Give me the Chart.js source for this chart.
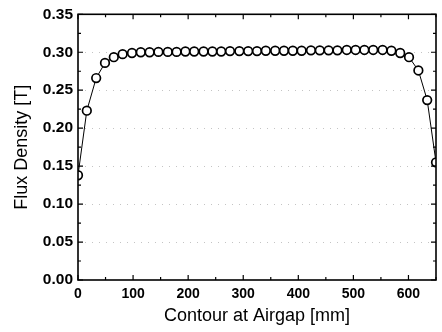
<!DOCTYPE html>
<html>
<head>
<meta charset="utf-8">
<script src="https://cdn.jsdelivr.net/npm/chart.js@4.4.1/dist/chart.umd.min.js"></script>
<style>
  html, body { margin: 0; padding: 0; background: #fff; }
  #wrap { width: 442px; height: 332px; position: relative; }
</style>
</head>
<body>
<div id="wrap"><canvas id="fluxChart"></canvas></div>
<script>
(function () {

    // ─────────────────────────────────────────────
    // DATA
    // ─────────────────────────────────────────────
    var contourMm = [0, 16, 33, 49, 65, 81, 98, 114, 130, 146, 163, 179, 195, 211,
        228, 244, 260, 276, 293, 309, 325, 341, 358, 374, 390, 406, 423, 439,
        455, 471, 488, 504, 520, 536, 553, 569, 585, 601, 618, 634, 650];

    var fluxDensity = [0.138, 0.223, 0.266, 0.286, 0.2935, 0.2975, 0.299, 0.300,
        0.300, 0.3005, 0.3005, 0.3005, 0.301, 0.301, 0.301, 0.301, 0.301,
        0.3015, 0.3015, 0.3015, 0.3015, 0.302, 0.302, 0.302, 0.302, 0.302,
        0.3025, 0.3025, 0.3025, 0.3025, 0.303, 0.303, 0.303, 0.303, 0.303,
        0.302, 0.299, 0.2935, 0.276, 0.237, 0.155];

    var xTicks = [0, 100, 200, 300, 400, 500, 600];
    var yTicks = [0.00, 0.05, 0.10, 0.15, 0.20, 0.25, 0.30, 0.35];
    var xMinorTicks = [50, 150, 250, 350, 450, 550, 650];
    var yMinorTicks = [0.025, 0.075, 0.125, 0.175, 0.225, 0.275, 0.325];

    var points = contourMm.map(function (x, i) { return { x: x, y: fluxDensity[i] }; });

    // ─────────────────────────────────────────────
    // FRAME + INWARD TICKS
    // ─────────────────────────────────────────────
    var framePlugin = {
        id: 'frame',
        afterDraw: function (chart) {
            var ctx = chart.ctx, a = chart.chartArea;
            var xs = chart.scales.x, ys = chart.scales.y;
            ctx.save();
            ctx.strokeStyle = '#000';
            ctx.lineWidth = 1.6;
            ctx.strokeRect(a.left, a.top, a.right - a.left, a.bottom - a.top);

            ctx.lineWidth = 1.2;
            ctx.beginPath();
            function xt(v, len) {
                var p = xs.getPixelForValue(v);
                ctx.moveTo(p, a.bottom); ctx.lineTo(p, a.bottom - len);
                ctx.moveTo(p, a.top); ctx.lineTo(p, a.top + len);
            }
            function yt(v, len) {
                var p = ys.getPixelForValue(v);
                ctx.moveTo(a.left, p); ctx.lineTo(a.left + len, p);
                ctx.moveTo(a.right, p); ctx.lineTo(a.right - len, p);
            }
            xTicks.forEach(function (v) { xt(v, 5); });
            xMinorTicks.forEach(function (v) { xt(v, 3); });
            yTicks.forEach(function (v) { yt(v, 5); });
            yMinorTicks.forEach(function (v) { yt(v, 3); });
            ctx.stroke();
            ctx.restore();
        }
    };

    // ─────────────────────────────────────────────
    // CHART
    // ─────────────────────────────────────────────
    var family = 'Liberation Sans, Arial, sans-serif';

    new Chart(document.getElementById('fluxChart').getContext('2d'), {
        type: 'line',
        data: {
            datasets: [{
                data: points,
                borderColor: '#000',
                borderWidth: 1,
                pointRadius: 4.3,
                pointBorderWidth: 1.7,
                pointBackgroundColor: '#fff',
                pointBorderColor: '#000',
                tension: 0
            }]
        },
        options: {
            responsive: true,
            maintainAspectRatio: false,
            animation: false,
            layout: { padding: { top: 12, right: 1, left: 0, bottom: 0 } },
            plugins: {
                legend: { display: false },
                tooltip: { enabled: false }
            },
            scales: {
                x: {
                    type: 'linear',
                    min: 0,
                    max: 650,
                    afterBuildTicks: function (s) {
                        s.ticks = xTicks.map(function (v) { return { value: v }; });
                    },
                    afterFit: function (s) { s.height = 52; },
                    grid: { display: false, drawTicks: false },
                    border: { display: false },
                    ticks: {
                        color: '#000',
                        font: { family: family, size: 14, weight: 'bold' },
                        padding: 6,
                        maxRotation: 0,
                        callback: function (v) { return v; }
                    },
                    title: {
                        display: true,
                        text: 'Contour at Airgap [mm]',
                        color: '#000',
                        font: { family: family, size: 18 },
                        padding: { top: 0, bottom: 5 }
                    }
                },
                y: {
                    min: 0,
                    max: 0.35,
                    afterBuildTicks: function (s) {
                        s.ticks = yTicks.map(function (v) { return { value: v }; });
                    },
                    afterFit: function (s) { s.width = 78; },
                    grid: {
                        color: function (c) {
                            return (c.tick.value === 0 || c.tick.value === 0.35) ? 'rgba(0,0,0,0)' : '#c4c4c4';
                        },
                        lineWidth: 1,
                        drawTicks: false
                    },
                    border: { display: false, dash: [1, 6] },
                    ticks: {
                        color: '#000',
                        font: { family: family, size: 15.5, weight: 'bold' },
                        padding: 5,
                        callback: function (v) { return v.toFixed(2); }
                    },
                    title: {
                        display: true,
                        text: 'Flux Density [T]',
                        color: '#000',
                        font: { family: family, size: 18 },
                        padding: { top: 11, bottom: 0 }
                    }
                }
            }
        },
        plugins: [framePlugin]
    });

})();
</script>
</body>
</html>
